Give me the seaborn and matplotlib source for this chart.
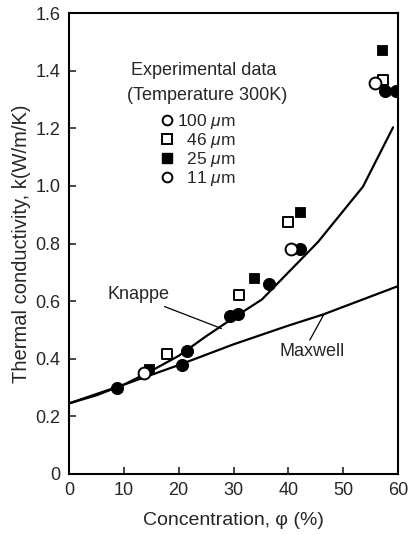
import matplotlib
matplotlib.use("Agg")
import matplotlib.pyplot as plt
from matplotlib.lines import Line2D
import seaborn as sns
import pandas as pd

# ---- data ----
knappe_x = [0, 5, 10, 15, 20, 25, 30, 35.2, 45.4, 53.6, 59.1]
knappe_y = [0.245, 0.273, 0.31, 0.358, 0.41, 0.478, 0.542, 0.606, 0.805, 0.997, 1.203]
maxwell_x = [0, 10, 20, 30, 40, 46.4, 50, 60]
maxwell_y = [0.245, 0.31, 0.378, 0.45, 0.515, 0.554, 0.58, 0.652]

d100_x = [13.6, 40.5, 55.8]
d100_y = [0.35, 0.78, 1.357]
d46_x = [17.9, 31.0, 40.0, 57.3]
d46_y = [0.416, 0.62, 0.874, 1.367]
d25_x = [14.6, 33.7, 42.2, 57.1]
d25_y = [0.363, 0.68, 0.908, 1.472]
d11_x = [8.8, 20.6, 21.5, 29.3, 30.9, 36.5, 42.2, 57.6, 59.7]
d11_y = [0.297, 0.378, 0.427, 0.549, 0.556, 0.659, 0.78, 1.33, 1.33]

legend_labels = ["100 $\\mu$m", "  46 $\\mu$m", "  25 $\\mu$m", "  11 $\\mu$m"]
x_ticks = [0, 10, 20, 30, 40, 50, 60]
y_ticks = [0, 0.2, 0.4, 0.6, 0.8, 1.0, 1.2, 1.4, 1.6]
y_ticklabels = ["0", "0.2", "0.4", "0.6", "0.8", "1.0", "1.2", "1.4", "1.6"]

sns.set_theme(style="ticks")
plt.rcParams['font.family'] = ['Liberation Sans', 'DejaVu Sans']
plt.rcParams['mathtext.fontset'] = 'custom'
plt.rcParams['mathtext.it'] = 'Liberation Sans:italic'
plt.rcParams['mathtext.rm'] = 'Liberation Sans'

fig = plt.figure(figsize=(4.09, 5.35), dpi=100)
ax = fig.add_axes([69 / 409, (535 - 474) / 535, (398 - 69) / 409, (474 - 13) / 535])

kn = pd.DataFrame({"x": knappe_x, "y": knappe_y})
mx = pd.DataFrame({"x": maxwell_x, "y": maxwell_y})
sns.lineplot(data=kn, x="x", y="y", ax=ax, color="black", lw=1.6, sort=False, estimator=None)
sns.lineplot(data=mx, x="x", y="y", ax=ax, color="black", lw=1.6, sort=False, estimator=None)

ms = 56
sns.scatterplot(x=d11_x, y=d11_y, ax=ax, marker="o", s=ms * 1.35, color="black", edgecolor="black", zorder=5)
sns.scatterplot(x=d25_x, y=d25_y, ax=ax, marker="s", s=ms, color="black", edgecolor="black", zorder=5)
sns.scatterplot(x=d46_x, y=d46_y, ax=ax, marker="s", s=ms, facecolor="white", edgecolor="black", linewidth=1.4, zorder=5)
sns.scatterplot(x=d100_x, y=d100_y, ax=ax, marker="o", s=ms * 1.3, facecolor="white", edgecolor="black", linewidth=1.4, zorder=5)

ax.set_xlim(0, 60)
ax.set_ylim(0, 1.6)
ax.set_xticks(x_ticks)
ax.set_yticks(y_ticks)
ax.set_yticklabels(y_ticklabels)
ax.tick_params(direction="in", length=5, width=1.2, labelsize=13, top=False, right=False, pad=6)
for sp in ax.spines.values():
    sp.set_linewidth(1.5)
    sp.set_color("black")
ax.set_xlabel("Concentration, \u03c6 (%)", fontsize=14, labelpad=9)
ax.set_ylabel("Thermal conductivity, k(W/m/K)", fontsize=14.5, labelpad=3)

# annotations
ax.annotate("Knappe", xy=(27.8, 0.505), xytext=(12.6, 0.622), fontsize=13,
            ha="center", va="center",
            arrowprops=dict(arrowstyle="-", color="black", lw=0.9, shrinkA=0, shrinkB=0,
                            relpos=(0.79, 0.0)))
ax.annotate("Maxwell", xy=(46.4, 0.551), xytext=(44.3, 0.424), fontsize=13,
            ha="center", va="center",
            arrowprops=dict(arrowstyle="-", color="black", lw=0.9, shrinkA=0, shrinkB=0,
                            relpos=(0.44, 1.0)))

# legend
ax.text(11.3, 1.40, "Experimental data", fontsize=13, ha="left", va="center")
ax.text(10.6, 1.314, "(Temperature 300K)", fontsize=13, ha="left", va="center")
handles = [
    Line2D([], [], ls="none", marker="o", ms=7, mfc="white", mec="black", mew=1.4),
    Line2D([], [], ls="none", marker="s", ms=6.5, mfc="white", mec="black", mew=1.4),
    Line2D([], [], ls="none", marker="s", ms=6.5, mfc="black", mec="black"),
    Line2D([], [], ls="none", marker="o", ms=7, mfc="white", mec="black", mew=1.4),
]
ax.legend(handles, legend_labels, loc="upper left", bbox_to_anchor=(0.277, 0.785),
          frameon=False, fontsize=12.5, handlelength=0.8, handletextpad=0.15,
          labelspacing=0.0, borderpad=0, borderaxespad=0)

fig.savefig("out.png", dpi=100)
